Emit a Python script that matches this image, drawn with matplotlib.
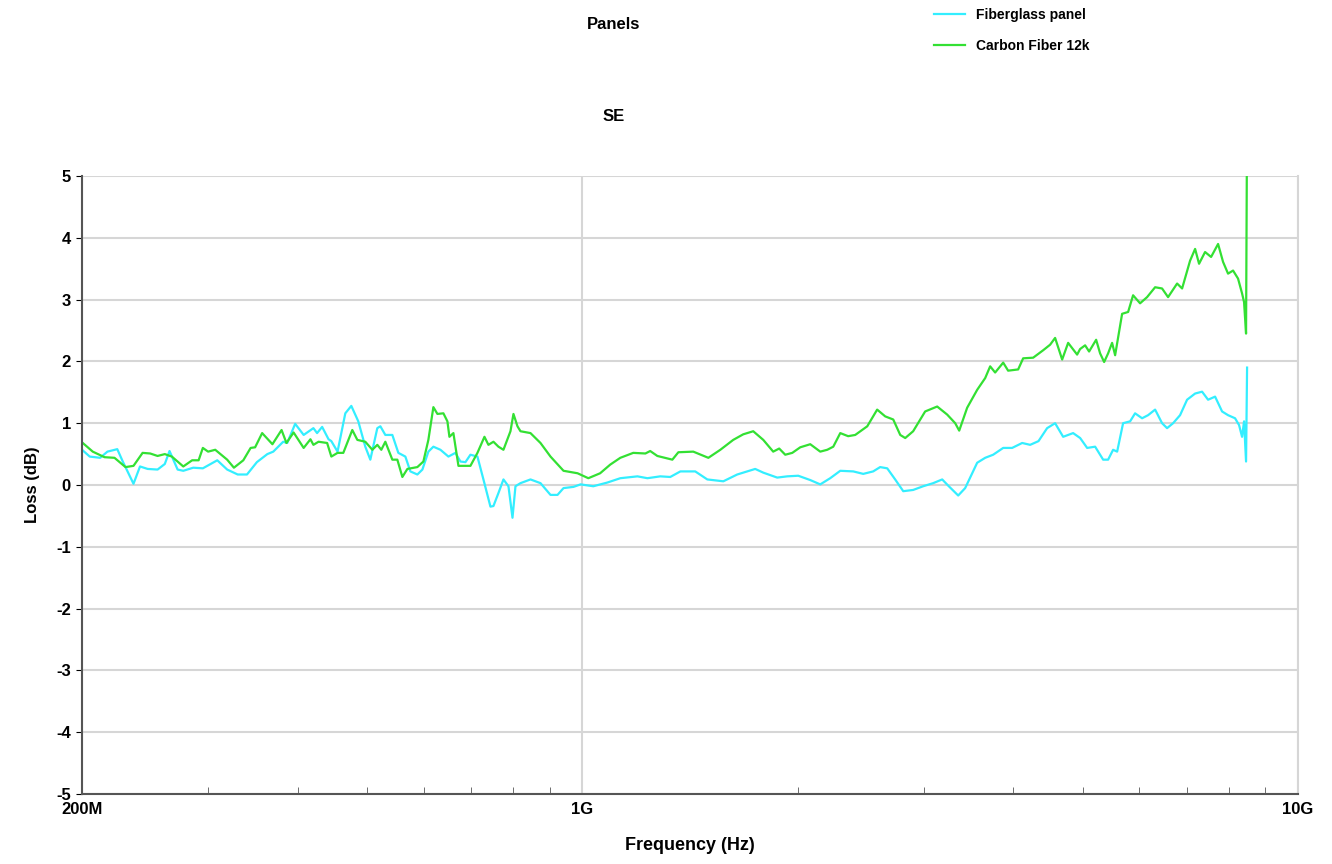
import numpy as np
import matplotlib.pyplot as plt
from matplotlib.ticker import FixedLocator, NullFormatter

plt.rcParams['font.family'] = ['Liberation Sans', 'DejaVu Sans']
plt.rcParams['font.weight'] = 'bold'
plt.rcParams['axes.labelweight'] = 'bold'
plt.rcParams['axes.unicode_minus'] = False

# Fiberglass panel (frequency in GHz, loss in dB)
fg_freq = [0.200, 0.205, 0.212, 0.217, 0.224, 0.228, 0.236, 0.241, 0.247, 0.255,
           0.261, 0.265, 0.272, 0.277, 0.286, 0.295, 0.309, 0.319, 0.330, 0.340,
           0.351, 0.363, 0.370, 0.382, 0.387, 0.397, 0.408, 0.421, 0.426, 0.433,
           0.442, 0.446, 0.455, 0.4665, 0.4756, 0.4864, 0.4975, 0.5056, 0.5171, 0.5222,
           0.5306, 0.5427, 0.5533, 0.5659, 0.5751, 0.5882, 0.5978, 0.6094, 0.6193, 0.6335,
           0.6500, 0.6648, 0.6756, 0.6866, 0.6977, 0.7136, 0.7275, 0.7441, 0.7513, 0.7635,
           0.7759, 0.7885, 0.7988, 0.8065, 0.8196, 0.8464, 0.8741, 0.9027, 0.9233, 0.9413,
           0.9722, 0.9943, 1.036, 1.084, 1.130, 1.194, 1.233, 1.285, 1.327, 1.371,
           1.438, 1.495, 1.574, 1.646, 1.700, 1.744, 1.790, 1.872, 1.933, 2.003,
           2.082, 2.150, 2.220, 2.293, 2.391, 2.469, 2.549, 2.607, 2.667, 2.736,
           2.808, 2.899, 2.994, 3.092, 3.183, 3.245, 3.351, 3.427, 3.562, 3.655,
           3.750, 3.873, 3.986, 4.117, 4.224, 4.339, 4.461, 4.577, 4.697, 4.850,
           4.961, 5.074, 5.206, 5.342, 5.428, 5.516, 5.588, 5.696, 5.826, 5.920,
           6.055, 6.173, 6.314, 6.457, 6.562, 6.690, 6.842, 6.998, 7.181, 7.344,
           7.487, 7.658, 7.832, 7.984, 8.166, 8.272, 8.352, 8.406, 8.460, 8.488]
fg_loss = [0.57, 0.46, 0.44, 0.54, 0.58, 0.38, 0.02, 0.30, 0.26, 0.25,
           0.34, 0.55, 0.25, 0.23, 0.28, 0.27, 0.40, 0.25, 0.17, 0.17,
           0.37, 0.50, 0.54, 0.70, 0.68, 0.99, 0.81, 0.92, 0.84, 0.94,
           0.74, 0.71, 0.54, 1.16, 1.28, 1.03, 0.62, 0.41, 0.92, 0.95,
           0.81, 0.81, 0.52, 0.46, 0.22, 0.17, 0.25, 0.54, 0.62, 0.57,
           0.46, 0.52, 0.38, 0.37, 0.49, 0.46, 0.09, -0.35, -0.34, -0.13,
           0.09, -0.02, -0.53, -0.02, 0.03, 0.09, 0.03, -0.16, -0.16, -0.05,
           -0.03, 0.01, -0.02, 0.04, 0.11, 0.14, 0.11, 0.14, 0.13, 0.22,
           0.22, 0.09, 0.06, 0.17, 0.22, 0.26, 0.20, 0.12, 0.14, 0.15,
           0.08, 0.01, 0.11, 0.23, 0.22, 0.18, 0.22, 0.29, 0.27, 0.09,
           -0.10, -0.08, -0.02, 0.03, 0.09, -0.01, -0.17, -0.05, 0.36, 0.44,
           0.49, 0.60, 0.60, 0.68, 0.65, 0.71, 0.92, 1.00, 0.78, 0.84,
           0.76, 0.60, 0.62, 0.41, 0.41, 0.57, 0.54, 1.00, 1.03, 1.16,
           1.08, 1.13, 1.22, 1.00, 0.92, 1.00, 1.13, 1.38, 1.48, 1.51,
           1.38, 1.43, 1.19, 1.13, 1.08, 0.97, 0.78, 1.03, 0.38, 1.90]

# Carbon Fiber 12k
cf_freq = [0.200, 0.207, 0.215, 0.222, 0.230, 0.236, 0.243, 0.249, 0.255, 0.261,
           0.267, 0.277, 0.285, 0.291, 0.295, 0.300, 0.307, 0.319, 0.326, 0.336,
           0.344, 0.349, 0.357, 0.369, 0.380, 0.386, 0.395, 0.408, 0.417, 0.421,
           0.428, 0.440, 0.446, 0.455, 0.4635, 0.4771, 0.4849, 0.4975, 0.5089, 0.5171,
           0.5238, 0.5306, 0.5427, 0.5515, 0.5605, 0.5696, 0.5882, 0.5997, 0.6094, 0.6193,
           0.6274, 0.6396, 0.6479, 0.6521, 0.6605, 0.6713, 0.6977, 0.7136, 0.7299, 0.7393,
           0.7513, 0.7635, 0.7759, 0.7936, 0.8013, 0.8117, 0.8196, 0.8464, 0.8741, 0.9027,
           0.9413, 0.9848, 1.0195, 1.059, 1.094, 1.130, 1.178, 1.225, 1.244, 1.273,
           1.336, 1.362, 1.429, 1.500, 1.559, 1.625, 1.678, 1.733, 1.790, 1.848,
           1.884, 1.921, 1.965, 2.016, 2.082, 2.150, 2.199, 2.242, 2.293, 2.352,
           2.406, 2.501, 2.582, 2.650, 2.719, 2.781, 2.826, 2.899, 3.013, 3.132,
           3.234, 3.319, 3.362, 3.449, 3.562, 3.655, 3.714, 3.774, 3.873, 3.935,
           4.064, 4.130, 4.265, 4.404, 4.504, 4.577, 4.682, 4.773, 4.913, 4.960,
           5.041, 5.106, 5.223, 5.290, 5.359, 5.428, 5.498, 5.552, 5.678, 5.789,
           5.882, 6.016, 6.153, 6.314, 6.457, 6.583, 6.777, 6.887, 7.066, 7.181,
           7.273, 7.415, 7.560, 7.732, 7.857, 7.984, 8.114, 8.245, 8.352, 8.406,
           8.460, 8.488]
cf_loss = [0.69, 0.54, 0.45, 0.44, 0.29, 0.31, 0.52, 0.51, 0.47, 0.50,
           0.46, 0.30, 0.40, 0.40, 0.60, 0.54, 0.57, 0.41, 0.28, 0.40,
           0.60, 0.61, 0.84, 0.66, 0.89, 0.68, 0.85, 0.60, 0.74, 0.65,
           0.70, 0.68, 0.46, 0.52, 0.52, 0.89, 0.73, 0.70, 0.57, 0.65,
           0.57, 0.70, 0.41, 0.41, 0.13, 0.26, 0.29, 0.38, 0.73, 1.26,
           1.15, 1.16, 1.03, 0.78, 0.84, 0.31, 0.31, 0.52, 0.78, 0.65,
           0.70, 0.62, 0.57, 0.87, 1.15, 0.95, 0.87, 0.84, 0.68, 0.46,
           0.23, 0.19, 0.11, 0.19, 0.33, 0.44, 0.52, 0.51, 0.55, 0.47,
           0.41, 0.53, 0.54, 0.44, 0.57, 0.73, 0.82, 0.87, 0.73, 0.54,
           0.59, 0.49, 0.52, 0.61, 0.66, 0.54, 0.57, 0.62, 0.84, 0.79,
           0.81, 0.95, 1.22, 1.11, 1.06, 0.81, 0.76, 0.87, 1.19, 1.27,
           1.14, 1.00, 0.88, 1.25, 1.54, 1.73, 1.92, 1.82, 1.98, 1.85,
           1.87, 2.05, 2.06, 2.18, 2.27, 2.38, 2.03, 2.30, 2.11, 2.20,
           2.26, 2.16, 2.35, 2.13, 1.99, 2.13, 2.30, 2.10, 2.77, 2.80,
           3.07, 2.94, 3.04, 3.20, 3.18, 3.04, 3.26, 3.18, 3.63, 3.82,
           3.58, 3.77, 3.69, 3.90, 3.61, 3.42, 3.47, 3.34, 3.10, 2.96,
           2.45, 6.00]

major_ticks = [0.2, 1, 10]
major_labels = ['200M', '1G', '10G']
minor_ticks = [0.3, 0.4, 0.5, 0.6, 0.7, 0.8, 0.9, 2, 3, 4, 5, 6, 7, 8, 9]

fig = plt.figure(figsize=(13.32, 8.64), dpi=100)
ax = fig.add_axes([0.0616, 0.081, 0.9129, 0.7153])

ax.plot(fg_freq, fg_loss, color='#33eeff', lw=1.6, label='Fiberglass panel')
ax.plot(cf_freq, cf_loss, color='#33e033', lw=1.6, label='Carbon Fiber 12k')

ax.set_xscale('log')
ax.set_xlim(0.2, 10)
ax.set_ylim(-5, 5)
ax.xaxis.set_major_locator(FixedLocator(major_ticks))
ax.set_xticklabels(major_labels)
ax.xaxis.set_minor_locator(FixedLocator(minor_ticks))
ax.xaxis.set_minor_formatter(NullFormatter())
ax.set_yticks(range(-5, 6))

ax.grid(True, which='major', color='#d6d6d6', lw=1.5)
ax.set_axisbelow(True)
ax.tick_params(axis='x', which='major', direction='in', length=0, labelsize=12, pad=6)
ax.tick_params(axis='x', which='minor', direction='in', length=5, color='#555555')
ax.tick_params(axis='y', direction='out', length=4, labelsize=12, pad=4)

ax.spines['top'].set_visible(False)
ax.spines['right'].set_color('#d6d6d6')
ax.spines['right'].set_linewidth(1.5)
for s in ['left', 'bottom']:
    ax.spines[s].set_color('#555555')
    ax.spines[s].set_linewidth(1.5)

ax.set_xlabel('Frequency (Hz)', fontsize=13, labelpad=14)
ax.set_ylabel('Loss (dB)', fontsize=12, labelpad=12)

fig.text(0.4605, 0.972, 'Panels', ha='center', va='center', fontsize=12)
fig.text(0.4605, 0.865, 'SE', ha='center', va='center', fontsize=12)

fig.legend(loc='upper left', bbox_to_anchor=(0.695, 1.0), frameon=False,
           fontsize=10, handlelength=2.2, labelspacing=1.2, borderaxespad=0.2)

fig.savefig('out.png', dpi=100)
